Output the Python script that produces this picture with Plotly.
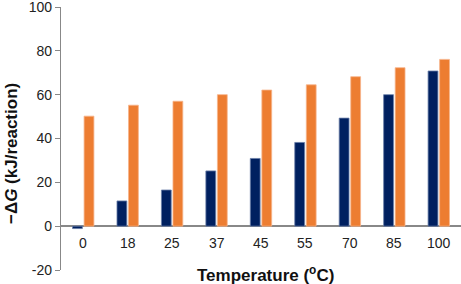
import plotly.graph_objects as go

categories = ["0", "18", "25", "37", "45", "55", "70", "85", "100"]
series_navy = [-1.1, 11.5, 16.5, 25.2, 30.9, 38.2, 49.3, 60.0, 70.8]
series_orange = [50.2, 55.2, 57.0, 60.0, 62.1, 64.5, 68.2, 72.3, 76.1]
y_ticks = [-20, 0, 20, 40, 60, 80, 100]

fig = go.Figure()
fig.add_trace(go.Bar(x=categories, y=series_navy, marker=dict(color="#002060", line=dict(color="#6a7fa8", width=0.8))))
fig.add_trace(go.Bar(x=categories, y=series_orange, marker=dict(color="#ED7D31", line=dict(color="#f6b48a", width=0.8))))

ann = []
for i, c in enumerate(categories):
    ann.append(dict(x=i, y=0, xref="x", yref="y", text=c, showarrow=False,
                    yanchor="top", yshift=-7, font=dict(size=14, color="#222")))
ann.append(dict(x=0.51, y=0, xref="paper", yref="paper", text="<b>Temperature (<sup>o</sup>C)</b>",
                showarrow=False, yanchor="middle", yshift=-4, font=dict(size=17, color="#111")))
ann.append(dict(x=0, y=0.441, xref="paper", yref="paper", xshift=-50, text="<b>\u2212\u0394<i>G</i> (kJ/reaction)</b>",
                textangle=-90, showarrow=False, xanchor="center", yanchor="middle",
                font=dict(size=17, color="#111")))

fig.update_layout(
    width=461, height=284,
    margin=dict(l=61, r=0, t=7, b=14, autoexpand=False),
    paper_bgcolor="white", plot_bgcolor="white",
    showlegend=False,
    barmode="group", bargap=0.48, bargroupgap=0.15,
    font=dict(family="Liberation Sans, Arial, sans-serif", size=14, color="#222"),
    annotations=ann,
)
fig.update_xaxes(type="category", range=[-0.5, 8.5], showticklabels=False, showline=False,
                 showgrid=False, zeroline=False, ticks="", automargin=False)
fig.update_yaxes(range=[-20, 100], tickvals=y_ticks, ticktext=[str(v) for v in y_ticks],
                 showgrid=False, zeroline=True,
                 zerolinecolor="#888888", zerolinewidth=1.5, showline=True, linecolor="#888888",
                 linewidth=1.2, ticks="outside", ticklen=5, tickcolor="#888888", automargin=False,
                 ticklabeloverflow="allow", tickfont=dict(size=14, color="#222"))

fig.write_html("out.html", config={"displayModeBar": False},
               post_script="document.body.style.margin='0';document.body.style.padding='0';")
